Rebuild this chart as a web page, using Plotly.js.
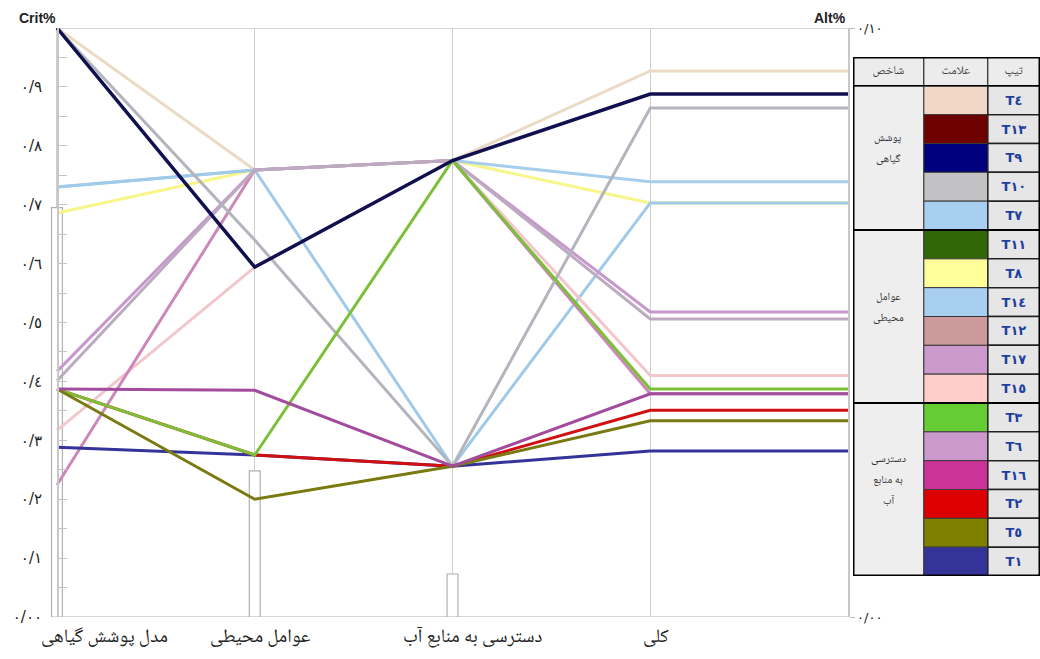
<!DOCTYPE html>
<html>
<head>
<meta charset="utf-8">
<script src="https://cdn.plot.ly/plotly-3.0.1.min.js"></script>
<style>html,body{margin:0;padding:0;background:#fff;}#chart{width:1040px;height:659px;}</style>
</head>
<body>
<div id="chart"></div>
<script>
// ---------- data ----------
const criteria = ['مدل پوشش گیاهی', 'عوامل محیطی', 'دسترسی به منابع آب', 'کلی'];
const yTickVals = [0, 0.1, 0.2, 0.3, 0.4, 0.5, 0.6, 0.7, 0.8, 0.9];
const yTickText = ['٠/٠٠', '٠/١', '٠/٢', '٠/٣', '٠/٤', '٠/٥', '٠/٦', '٠/٧', '٠/٨', '٠/٩'];
const altTickVals = [0, 0.1];
const altTickText = ['٠/٠٠', '٠/١٠'];
const weights = [0.695, 0.248, 0.073];   // criterion weight boxes

// series drawn as lines (drawing order bottom -> top)
const lineTypes  = ['T4', 'T8', 'T7', 'T14', 'T15', 'T6', 'T17', 'T12', 'T10', 'T1', 'T2', 'T3', 'T5', 'T16', 'T9'];
const lineColors = ['#eadbc4', '#f6f68a', '#a6cdec', '#9fcaea', '#f2c6ca', '#cc88b8', '#c898cc', '#bcaac0', '#b4b4bc', '#333399', '#d01010', '#7cbf38', '#7a7a12', '#a34c9e', '#101050'];
const vegModel    = [1.000, 0.686, 0.730, 0.730, 0.317, 0.224, 0.417, 0.401, 1.000, 0.288, 0.387, 0.387, 0.387, 0.387, 1.000];
const envFactors  = [0.759, 0.759, 0.759, 0.759, 0.594, 0.759, 0.759, 0.759, 0.640, 0.275, 0.275, 0.275, 0.200, 0.385, 0.594];
const waterAccess = [0.775, 0.775, 0.775, 0.256, 0.775, 0.775, 0.775, 0.775, 0.256, 0.256, 0.256, 0.775, 0.256, 0.256, 0.775];
const overall     = [0.927, 0.703, 0.739, 0.703, 0.410, 0.379, 0.518, 0.506, 0.864, 0.282, 0.351, 0.387, 0.333, 0.379, 0.888];

// legend table
const legendTypes  = ['T٤', 'T١٣', 'T٩', 'T١٠', 'T٧', 'T١١', 'T٨', 'T١٤', 'T١٢', 'T١٧', 'T١٥', 'T٣', 'T٦', 'T١٦', 'T٢', 'T٥', 'T١'];
const legendColors = ['#f2d6c6', '#6e0000', '#00007e', '#c2c2c4', '#a9cff0', '#2f6606', '#ffff99', '#a9cff0', '#cc9a9a', '#cc99cc', '#ffcccc', '#66cc33', '#cc99cc', '#cc3399', '#dd0000', '#808000', '#333399'];
const groupNames = [['پوشش', 'گیاهی'], ['عوامل', 'محیطی'], ['دسترسی', 'به منابع', 'آب']];
const groupSizes = [5, 6, 6];
const headers = ['شاخص', 'علامت', 'تیپ'];

// ---------- build ----------
const AR = "'Noto Naskh Arabic','Noto Sans Arabic','DejaVu Sans',sans-serif";
const xPos = [0, 1, 2, 3, 4];
const traces = [];

// weight boxes
traces.push({
  type: 'bar', x: [0, 1, 2], y: weights, width: 0.055,
  marker: {color: '#ffffff', line: {color: '#b0b0b0', width: 1.2}},
  hoverinfo: 'skip', showlegend: false, xaxis: 'x', yaxis: 'y'
});

for (let i = 0; i < lineTypes.length; i++) {
  traces.push({
    type: 'scatter', mode: 'lines', name: lineTypes[i],
    x: xPos,
    y: [vegModel[i], envFactors[i], waterAccess[i], overall[i], overall[i]],
    line: {color: lineColors[i], width: lineTypes[i] === 'T9' ? 3.5 : 3},
    hoverinfo: 'skip', showlegend: false, xaxis: 'x', yaxis: 'y'
  });
}

// dummy for right axis
traces.push({type: 'scatter', mode: 'markers', x: [4], y: [0], marker: {opacity: 0}, hoverinfo: 'skip', showlegend: false, xaxis: 'x', yaxis: 'y2'});

// ----- legend table (x3/y3) -----
const colEdges = [0, 72, 137, 190];
const rows = legendTypes.map((_, i) => i);
// header
traces.push({
  type: 'bar', orientation: 'h', y: [-1, -1, -1],
  base: colEdges.slice(0, 3), x: [colEdges[1] - colEdges[0], colEdges[2] - colEdges[1], colEdges[3] - colEdges[2]],
  width: 1, text: headers, textposition: 'inside', insidetextanchor: 'middle', textangle: 0, constraintext: 'none',
  textfont: {family: AR, size: 12, color: '#444'},
  marker: {color: '#ececec', line: {color: '#222', width: 1}},
  hoverinfo: 'skip', showlegend: false, xaxis: 'x3', yaxis: 'y3'
});
// group column
const groupCenters = [];
let acc = 0;
groupSizes.forEach(s => { groupCenters.push(acc + (s - 1) / 2); acc += s; });
traces.push({
  type: 'bar', orientation: 'h', y: groupCenters, width: groupSizes,
  base: [0, 0, 0], x: [colEdges[1], colEdges[1], colEdges[1]],
  marker: {color: '#eeeeee', line: {color: '#222', width: 1}},
  hoverinfo: 'skip', showlegend: false, xaxis: 'x3', yaxis: 'y3'
});
// swatches
traces.push({
  type: 'bar', orientation: 'h', y: rows, width: 1,
  base: rows.map(() => colEdges[1]), x: rows.map(() => colEdges[2] - colEdges[1]),
  marker: {color: legendColors, line: {color: '#3a3a3a', width: 1}},
  hoverinfo: 'skip', showlegend: false, xaxis: 'x3', yaxis: 'y3'
});
// type labels
traces.push({
  type: 'bar', orientation: 'h', y: rows, width: 1,
  base: rows.map(() => colEdges[2]), x: rows.map(() => colEdges[3] - colEdges[2]),
  text: legendTypes.map(t => '<b>' + t + '</b>'), textposition: 'inside', insidetextanchor: 'middle', textangle: 0, constraintext: 'none',
  textfont: {family: "'DejaVu Sans',sans-serif", size: 13, color: '#1f3f9f'},
  marker: {color: '#e6e6e6', line: {color: '#222', width: 1.5}},
  hoverinfo: 'skip', showlegend: false, xaxis: 'x3', yaxis: 'y3'
});

// annotations
const annotations = [
  {text: '<b>Crit%</b>', xref: 'paper', yref: 'paper', x: 17 / 1040, y: 1 - 18 / 659, xanchor: 'left', yanchor: 'middle', showarrow: false, font: {family: 'Liberation Sans, Arial', size: 14, color: '#222'}},
  {text: '<b>Alt%</b>', xref: 'paper', yref: 'paper', x: 848 / 1040, y: 1 - 18 / 659, xanchor: 'right', yanchor: 'middle', showarrow: false, font: {family: 'Liberation Sans, Arial', size: 14, color: '#222'}}
];
criteria.forEach((c, i) => {
  annotations.push({
    text: c, xref: 'x', yref: 'paper', x: i, y: 1 - 638 / 659,
    xanchor: i === 0 ? 'left' : 'center', xshift: i === 0 ? -18 : (i === 2 ? 20 : 6), yanchor: 'middle',
    showarrow: false, font: {family: AR, size: 19, color: '#222'}
  });
});
groupNames.forEach((lines, i) => {
  lines.forEach((ln, j) => {
    annotations.push({
      text: ln, xref: 'x3', yref: 'y3', x: colEdges[1] / 2, y: groupCenters[i] - 0.3,
      yshift: ((lines.length - 1) / 2 - j) * 21,
      xanchor: 'center', yanchor: 'middle', showarrow: false,
      font: {family: AR, size: 11, color: '#333'}
    });
  });
});

const shapes = [
  {type: 'line', xref: 'x', yref: 'y', x0: 0, x1: 4, y0: 1, y1: 1, line: {color: '#c8c8c8', width: 1.5}, layer: 'below'},
  {type: 'line', xref: 'x', yref: 'y', x0: 0, x1: 4, y0: 0, y1: 0, line: {color: '#c8c8c8', width: 1.5}, layer: 'below'},
  {type: 'rect', xref: 'x3', yref: 'y3', x0: 0, x1: colEdges[3], y0: -1.5, y1: 16.5, line: {color: '#000', width: 3}},
  {type: 'line', xref: 'x3', yref: 'y3', x0: 0, x1: colEdges[3], y0: 4.5, y1: 4.5, line: {color: '#000', width: 2}},
  {type: 'line', xref: 'x3', yref: 'y3', x0: 0, x1: colEdges[3], y0: 10.5, y1: 10.5, line: {color: '#000', width: 2}},
  {type: 'line', xref: 'x3', yref: 'y3', x0: 0, x1: colEdges[3], y0: -0.5, y1: -0.5, line: {color: '#000', width: 1.5}}
];

const allTickVals = [], allTickText = [];
for (let k = 0; k <= 20; k++) {
  const v = k * 0.05;
  allTickVals.push(v);
  const idx = yTickVals.findIndex(t => Math.abs(t - v) < 1e-9);
  allTickText.push(idx >= 0 ? yTickText[idx] : '');
}

const layout = {
  width: 1040, height: 659,
  margin: {l: 0, r: 0, t: 0, b: 0},
  paper_bgcolor: '#ffffff', plot_bgcolor: 'rgba(0,0,0,0)',
  barmode: 'overlay', bargap: 0,
  showlegend: false,
  xaxis: {
    domain: [47.1 / 1040, 848 / 1040], range: [-0.05, 4],
    tickmode: 'array', tickvals: [0, 1, 2, 3], showticklabels: false, ticks: '',
    showgrid: true, gridcolor: '#cfcfcf', gridwidth: 1.5, zeroline: false, showline: false, fixedrange: true
  },
  yaxis: {
    domain: [42 / 659, 631 / 659], range: [0, 1],
    anchor: 'free', position: 57 / 1040,
    tickmode: 'array', tickvals: allTickVals, ticktext: allTickText,
    ticks: 'inside', ticklen: 8, tickcolor: '#c4c4c4', tickwidth: 1,
    ticklabelstandoff: 12,
    tickfont: {family: "'DejaVu Sans',serif", size: 15, color: '#222'},
    showgrid: false, zeroline: false, showline: true, linecolor: '#c8c8c8', linewidth: 1.5, fixedrange: true
  },
  yaxis2: {
    overlaying: 'y', side: 'right', anchor: 'x', range: [0, 0.1],
    tickmode: 'array', tickvals: altTickVals, ticktext: altTickText,
    ticks: 'outside', ticklen: 5, tickcolor: '#bbbbbb',
    tickfont: {family: "'DejaVu Sans',serif", size: 13, color: '#222'},
    showgrid: false, zeroline: false, showline: true, linecolor: '#c8c8c8', linewidth: 1.5, fixedrange: true
  },
  xaxis3: {
    domain: [853 / 1040, 1], range: [0, colEdges[3]], anchor: 'y3',
    visible: false, fixedrange: true
  },
  yaxis3: {
    domain: [(659 - 576) / 659, (659 - 57) / 659], range: [16.5, -1.5], anchor: 'x3',
    visible: false, fixedrange: true
  },
  annotations: annotations,
  shapes: shapes
};

Plotly.newPlot('chart', traces, layout, {staticPlot: true, displayModeBar: false});
</script>
</body>
</html>
